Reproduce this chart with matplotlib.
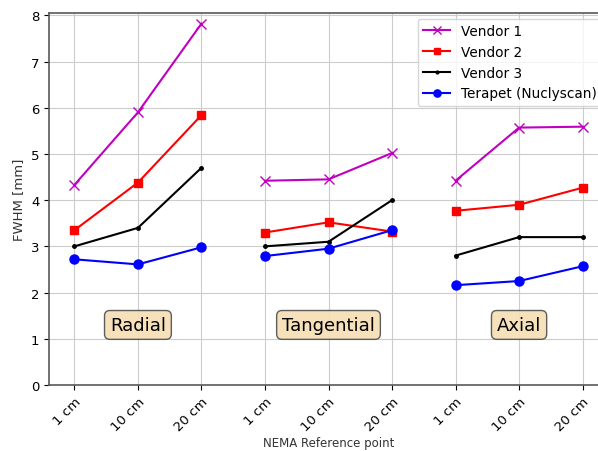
import numpy as np
import matplotlib.pyplot as plt

ticks = ['1 cm', '10 cm', '20 cm'] * 3
groups = ['Radial', 'Tangential', 'Axial']

vendor1 = [4.33, 5.90, 7.82, 4.42, 4.45, 5.02, 4.42, 5.57, 5.59]
vendor2 = [3.35, 4.38, 5.84, 3.30, 3.52, 3.32, 3.77, 3.90, 4.27]
vendor3 = [3.00, 3.40, 4.70, 3.00, 3.10, 4.00, 2.80, 3.20, 3.20]
terapet = [2.72, 2.61, 2.98, 2.79, 2.95, 3.35, 2.16, 2.25, 2.57]

series = [
    (vendor1, 'Vendor 1', dict(color='m', marker='x', markersize=7)),
    (vendor2, 'Vendor 2', dict(color='r', marker='s', markersize=6)),
    (vendor3, 'Vendor 3', dict(color='k', marker='.', markersize=5)),
    (terapet, 'Terapet (Nuclyscan)', dict(color='b', marker='o', markersize=6.5)),
]

fig = plt.figure(figsize=(5.98, 4.52), dpi=100)
ax = fig.add_axes([49/598, 1 - 386/452, 559/598, (386-14)/452])

x = np.arange(9)
for vals, lab, st in series:
    for g in range(3):
        sl = slice(3*g, 3*g + 3)
        ax.plot(x[sl], vals[sl], linewidth=1.5, label=lab if g == 0 else None, **st)

for g, name in enumerate(groups):
    ax.text(3*g + 1, 1.3, name, ha='center', va='center', fontsize=13,
            bbox=dict(boxstyle='round', facecolor='wheat', edgecolor='0.3', alpha=0.9))

ax.set_xticks(x)
ax.set_xticklabels(ticks, rotation=45, ha='right', rotation_mode='anchor', fontsize=9.5)
ax.tick_params(axis='y', labelsize=9.5)
ax.set_xlim(-0.4, 8.4)
ax.set_ylim(0, 8.05)
ax.grid(True, color='0.8')
ax.set_axisbelow(True)
for sp in ax.spines.values():
    sp.set_color('0.35')
    sp.set_linewidth(1.2)
ax.set_xlabel('NEMA Reference point', fontsize=8.5, color='0.2', labelpad=2)
ax.set_ylabel('FWHM [mm]', fontsize=9.5, color='0.2')
ax.legend(loc='upper right', fontsize=9.8, bbox_to_anchor=(0.99, 0.985),
          borderaxespad=0, markerscale=0.8)

plt.savefig('out.png', dpi=100)
